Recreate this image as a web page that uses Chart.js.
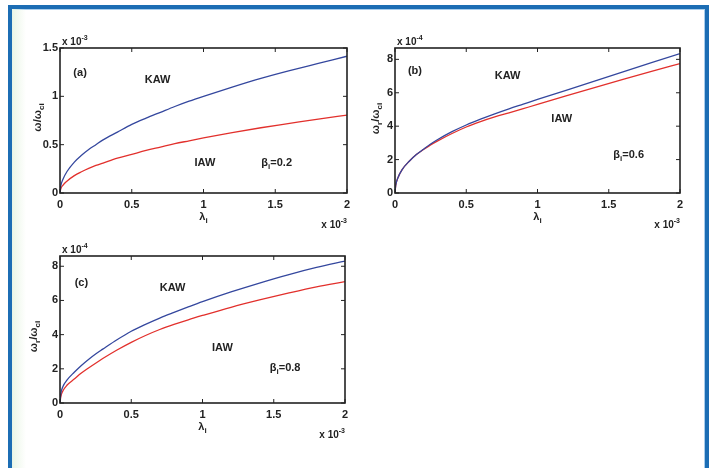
<!DOCTYPE html>
<html>
<head>
<meta charset="utf-8">
<script src="https://cdn.jsdelivr.net/npm/chart.js@4.4.1/dist/chart.umd.min.js"></script>
<style>
body { margin: 0; background: #fff; width: 715px; height: 468px; overflow: hidden; position: relative; }
#moldura { position: absolute; left: 8px; top: 5px; width: 693px; height: 470px; border: 4px solid #1c6db4; border-bottom: none; box-shadow: inset 0 0 0 1px #a9cdec; }
#faixa { position: absolute; left: 12px; top: 9px; width: 14px; height: 460px; background: linear-gradient(to right, #eaf6e6, rgba(255,255,255,0)); }
canvas { position: absolute; }
</style>
</head>
<body>
<div id="moldura"></div>
<div id="faixa"></div>
<canvas id="grafA" width="340" height="205" style="left:20px;top:30px"></canvas>
<canvas id="grafB" width="345" height="205" style="left:355px;top:30px"></canvas>
<canvas id="grafC" width="340" height="205" style="left:20px;top:238px"></canvas>
<script>
// lambda_i (x 10^-3)
var lambda = [0, 0.005, 0.02, 0.05, 0.1, 0.15, 0.2, 0.25, 0.3, 0.4, 0.5, 0.6, 0.7, 0.8, 0.9, 1.0, 1.2, 1.4, 1.6, 1.8, 2.0]
var xTicks = [0, 0.5, 1, 1.5, 2]

// (a) beta_i = 0.2, omega em 10^-3
var kawA = [0, 0.07, 0.14, 0.225, 0.32, 0.39, 0.45, 0.50, 0.55, 0.63, 0.71, 0.775, 0.835, 0.895, 0.95, 1.0, 1.095, 1.185, 1.265, 1.34, 1.415]
var iawA = [0, 0.04, 0.08, 0.125, 0.18, 0.22, 0.255, 0.285, 0.31, 0.36, 0.40, 0.44, 0.475, 0.51, 0.54, 0.57, 0.625, 0.675, 0.72, 0.765, 0.805]
var yTicksA = [0, 0.5, 1, 1.5]

// (b) beta_i = 0.6, omega em 10^-4
var kawB = [0, 0.45, 0.9, 1.4, 1.9, 2.3, 2.62, 2.93, 3.2, 3.67, 4.07, 4.42, 4.74, 5.04, 5.32, 5.6, 6.15, 6.7, 7.25, 7.8, 8.35]
var iawB = [0, 0.45, 0.9, 1.4, 1.9, 2.3, 2.6, 2.88, 3.12, 3.56, 3.95, 4.27, 4.55, 4.8, 5.05, 5.3, 5.81, 6.31, 6.8, 7.28, 7.75]

// (c) beta_i = 0.8, omega em 10^-4
var kawC = [0, 0.5, 0.95, 1.35, 1.8, 2.2, 2.55, 2.87, 3.15, 3.7, 4.2, 4.6, 4.97, 5.3, 5.62, 5.93, 6.5, 7.02, 7.5, 7.93, 8.3]
var iawC = [0, 0.35, 0.7, 1.05, 1.4, 1.75, 2.05, 2.33, 2.6, 3.1, 3.55, 3.95, 4.3, 4.6, 4.87, 5.12, 5.6, 6.03, 6.43, 6.8, 7.1]
var yTicksBC = [0, 2, 4, 6, 8]

var azul = '#34479e'
var vermelho = '#e2302c'
var escuro = '#222'
var fonte = '"Liberation Sans", Arial, sans-serif'

// escreve texto com partes em subscrito / sobrescrito
function texto(ctx, partes, x, y, tam, alinha) {
    var larg = 0
    partes.forEach(function (p) {
        ctx.font = 'bold ' + (p.sub || p.sup ? tam - 3 : tam) + 'px ' + fonte
        p.w = ctx.measureText(p.t).width
        larg += p.w
    })
    var x0 = x
    if (alinha == 'center') x0 = x - larg / 2
    if (alinha == 'right') x0 = x - larg
    ctx.textAlign = 'left'
    ctx.textBaseline = 'alphabetic'
    partes.forEach(function (p) {
        ctx.font = 'bold ' + (p.sub || p.sup ? tam - 3 : tam) + 'px ' + fonte
        var dy = p.sub ? 3 : (p.sup ? -5 : 0)
        ctx.fillText(p.t, x0, y + dy)
        x0 += p.w
    })
}

var decor = {
    id: 'decor',
    afterDraw: function (chart, args, op) {
        var ctx = chart.ctx
        var a = chart.chartArea
        var sx = chart.scales.x
        var sy = chart.scales.y
        ctx.save()
        ctx.strokeStyle = escuro
        ctx.fillStyle = escuro
        ctx.lineWidth = 1.6
        ctx.strokeRect(a.left, a.top, a.right - a.left, a.bottom - a.top)

        // ticks para dentro nos quatro lados
        ctx.lineWidth = 1
        ctx.beginPath()
        sx.ticks.forEach(function (t) {
            var px = sx.getPixelForValue(t.value)
            ctx.moveTo(px, a.bottom); ctx.lineTo(px, a.bottom - 4)
            ctx.moveTo(px, a.top); ctx.lineTo(px, a.top + 4)
        })
        sy.ticks.forEach(function (t) {
            var py = sy.getPixelForValue(t.value)
            ctx.moveTo(a.left, py); ctx.lineTo(a.left + 4, py)
            ctx.moveTo(a.right, py); ctx.lineTo(a.right - 4, py)
        })
        ctx.stroke()

        // titulo do eixo y
        ctx.save()
        ctx.translate(op.tituloX, (a.top + a.bottom) / 2 + op.tituloDy)
        ctx.rotate(-Math.PI / 2)
        texto(ctx, op.tituloY, 0, 4, 11, 'center')
        ctx.restore()

        // titulo do eixo x
        texto(ctx, [{ t: 'λ' }, { t: 'i', sub: true }], sx.getPixelForValue(1), a.bottom + 27, 11, 'center')

        // expoentes
        texto(ctx, [{ t: 'x 10' }, { t: op.expY, sup: true }], a.left + 2, a.top - 3, 10, 'left')
        texto(ctx, [{ t: 'x 10' }, { t: '-3', sup: true }], a.right, a.bottom + 35, 10, 'right')

        // rotulos dentro do grafico
        op.rotulos.forEach(function (r) {
            texto(ctx, r.partes, sx.getPixelForValue(r.x), sy.getPixelForValue(r.y) + 4, 11, 'center')
        })
        ctx.restore()
    }
}

function painel(id, kaw, iaw, yTicks, cfg) {
    var ctx = document.getElementById(id).getContext('2d')
    var pontos = function (serie) {
        return lambda.map(function (x, i) { return { x: x, y: serie[i] } })
    }
    var marcas = function (lista) {
        return function (s) { s.ticks = lista.map(function (v) { return { value: v } }) }
    }
    var tickFont = { family: fonte, size: 11, weight: 'bold' }
    return new Chart(ctx, {
        type: 'line',
        data: {
            datasets: [
                { label: 'KAW', data: pontos(kaw), borderColor: azul, borderWidth: 1.3, pointRadius: 0, cubicInterpolationMode: 'monotone', fill: false },
                { label: 'IAW', data: pontos(iaw), borderColor: vermelho, borderWidth: 1.3, pointRadius: 0, cubicInterpolationMode: 'monotone', fill: false }
            ]
        },
        options: {
            responsive: false,
            animation: false,
            events: [],
            layout: { padding: { left: 0, top: 18, right: cfg.padDir, bottom: 0 } },
            plugins: {
                legend: { display: false },
                tooltip: { enabled: false },
                decor: cfg
            },
            scales: {
                x: {
                    type: 'linear', min: 0, max: 2,
                    afterBuildTicks: marcas(xTicks),
                    afterFit: function (s) { s.height = cfg.altX },
                    grid: { display: false, drawTicks: false, tickLength: 0 },
                    border: { display: false },
                    ticks: { font: tickFont, color: escuro, padding: 5, maxRotation: 0, callback: function (v) { return String(v) } }
                },
                y: {
                    type: 'linear', min: 0, max: cfg.yMax,
                    afterBuildTicks: marcas(yTicks),
                    afterFit: function (s) { s.width = 40 },
                    grid: { display: false, drawTicks: false, tickLength: 0 },
                    border: { display: false },
                    ticks: { font: tickFont, color: escuro, padding: 2, callback: function (v) { return String(v) } }
                }
            }
        },
        plugins: [decor]
    })
}

painel('grafA', kawA, iawA, yTicksA, {
    yMax: 1.5, padDir: 13, altX: 42, tituloX: 17, tituloDy: -3, expY: '-3',
    tituloY: [{ t: 'ω' }, { t: '/ω' }, { t: 'ci', sub: true }],
    rotulos: [
        { partes: [{ t: '(a)' }], x: 0.14, y: 1.25 },
        { partes: [{ t: 'KAW' }], x: 0.68, y: 1.18 },
        { partes: [{ t: 'IAW' }], x: 1.01, y: 0.32 },
        { partes: [{ t: 'β' }, { t: 'i', sub: true }, { t: '=0.2' }], x: 1.51, y: 0.32 }
    ]
})

painel('grafB', kawB, iawB, yTicksBC, {
    yMax: 8.68, padDir: 20, altX: 42, tituloX: 20, tituloDy: -2, expY: '-4',
    tituloY: [{ t: 'ω' }, { t: 'r', sub: true }, { t: '/ω' }, { t: 'ci', sub: true }],
    rotulos: [
        { partes: [{ t: '(b)' }], x: 0.14, y: 7.37 },
        { partes: [{ t: 'KAW' }], x: 0.79, y: 7.07 },
        { partes: [{ t: 'IAW' }], x: 1.17, y: 4.5 },
        { partes: [{ t: 'β' }, { t: 'i', sub: true }, { t: '=0.6' }], x: 1.64, y: 2.35 }
    ]
})

painel('grafC', kawC, iawC, yTicksBC, {
    yMax: 8.6, padDir: 15, altX: 40, tituloX: 13, tituloDy: 7, expY: '-4',
    tituloY: [{ t: 'ω' }, { t: 'r', sub: true }, { t: '/ω' }, { t: 'ci', sub: true }],
    rotulos: [
        { partes: [{ t: '(c)' }], x: 0.15, y: 7.06 },
        { partes: [{ t: 'KAW' }], x: 0.79, y: 6.8 },
        { partes: [{ t: 'IAW' }], x: 1.14, y: 3.3 },
        { partes: [{ t: 'β' }, { t: 'i', sub: true }, { t: '=0.8' }], x: 1.58, y: 2.1 }
    ]
})
</script>
</body>
</html>
